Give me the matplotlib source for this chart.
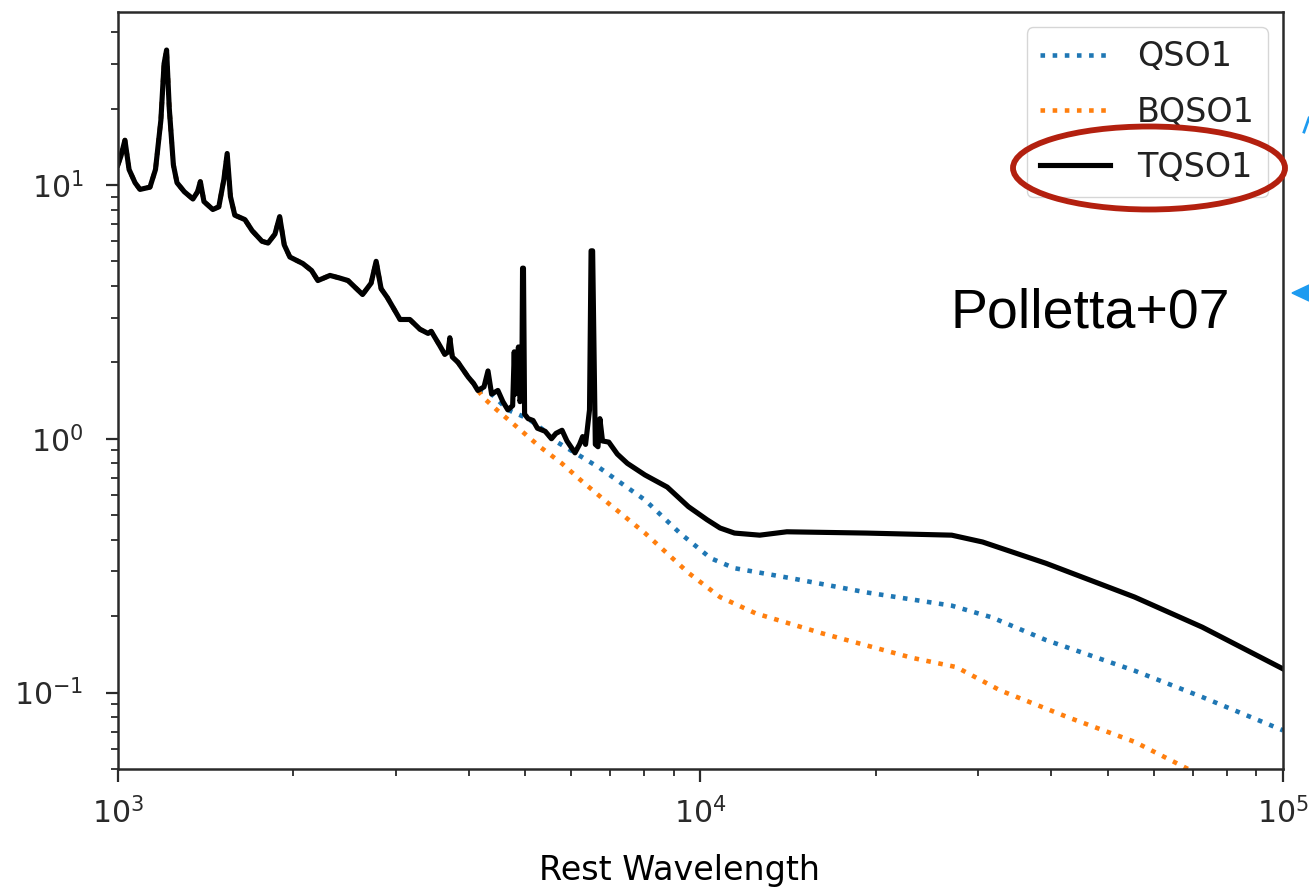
import numpy as np
import matplotlib
matplotlib.use("Agg")
import matplotlib.pyplot as plt
from matplotlib.patches import Ellipse

# --- data (rest wavelength in Angstrom, flux arbitrary) ---
# UV part shared by all three templates
uv_wave = [1000, 1012, 1028, 1045, 1070, 1091, 1135, 1160, 1185, 1200, 1212, 1225,
           1245, 1263, 1300, 1345, 1370, 1385, 1405, 1455, 1490, 1520, 1540, 1560,
           1587, 1652, 1700, 1767, 1810, 1860, 1895, 1930, 1973, 2077, 2150, 2204,
           2312, 2400, 2483, 2630, 2720, 2775, 2830, 2900, 3050, 3170, 3300, 3407,
           3450, 3560, 3640, 3690, 3713, 3750, 3835, 3993, 4080, 4148]
uv_flux = [12.0, 13.0, 15.0, 11.5, 10.2, 9.6, 9.8, 11.5, 18.0, 30.0, 34.0, 20.0,
           12.0, 10.2, 9.4, 8.8, 9.4, 10.3, 8.6, 8.0, 8.2, 10.5, 13.3, 9.0,
           7.6, 7.3, 6.6, 6.0, 5.9, 6.4, 7.5, 5.8, 5.2, 4.9, 4.6, 4.2,
           4.4, 4.3, 4.2, 3.7, 4.1, 5.0, 3.9, 3.6, 2.95, 2.95, 2.7, 2.6,
           2.65, 2.35, 2.15, 2.2, 2.5, 2.1, 2.0, 1.75, 1.65, 1.55]

# TQSO1 beyond the UV
tqso_wave_red = [4250, 4318, 4380, 4490, 4580, 4670, 4760, 4790, 4810, 4870, 4900,
                 4935, 4950, 4968, 4990, 5060, 5160, 5250, 5413, 5550, 5650, 5786,
                 5900, 6090, 6200, 6277, 6350, 6450, 6490, 6530, 6600, 6670, 6720,
                 6790, 6960, 7200, 7490, 8030, 8770, 9537, 10260, 10805, 11440,
                 12640, 14070, 19290, 27000, 30500, 39200, 55600, 72700, 100000]
tqso_flux_red = [1.6, 1.85, 1.5, 1.55, 1.4, 1.3, 1.35, 2.2, 1.5, 2.3, 1.4,
                 1.5, 4.7, 4.7, 1.25, 1.2, 1.18, 1.1, 1.07, 1.0, 1.05, 1.08,
                 0.98, 0.88, 0.95, 1.02, 0.95, 1.3, 5.5, 5.5, 0.95, 0.93, 1.2,
                 0.98, 0.97, 0.87, 0.80, 0.72, 0.645, 0.54, 0.48, 0.445, 0.425,
                 0.417, 0.43, 0.425, 0.417, 0.392, 0.323, 0.238, 0.181, 0.124]

# QSO1 beyond the UV
qso_wave_red = [4380, 4670, 5060, 5413, 5550, 6090, 6460, 6700, 8030, 9220, 10420,
                11440, 14330, 19290, 27000, 31600, 39200, 55600, 72700, 100000]
qso_flux_red = [1.5, 1.3, 1.2, 1.07, 1.0, 0.88, 0.81, 0.77, 0.574, 0.425, 0.338,
                0.309, 0.282, 0.248, 0.22, 0.198, 0.161, 0.122, 0.096, 0.071]

# BQSO1 beyond the UV
bqso_wave_red = [4270, 4470, 4870, 5300, 5780, 6260, 6800, 8030, 9540, 10800, 12450,
                 16200, 23100, 27500, 32700, 42700, 55600, 68700, 100000]
bqso_flux_red = [1.43, 1.30, 1.10, 0.93, 0.80, 0.68, 0.58, 0.425, 0.296, 0.238, 0.205,
                 0.171, 0.137, 0.126, 0.102, 0.08, 0.064, 0.05, 0.034]

labels = ["QSO1", "BQSO1", "TQSO1"]

qso_wave = np.array(uv_wave + qso_wave_red)
qso_flux = np.array(uv_flux + qso_flux_red)
bqso_wave = np.array(uv_wave + bqso_wave_red)
bqso_flux = np.array(uv_flux + bqso_flux_red)
tqso_wave = np.array(uv_wave + tqso_wave_red)
tqso_flux = np.array(uv_flux + tqso_flux_red)

fig = plt.figure(figsize=(13.09, 8.89), dpi=100)
ax = fig.add_axes([0.0901, 0.135, 0.89, 0.8515])

ax.plot(qso_wave, qso_flux, ":", color="#1f77b4", lw=3.3, label=labels[0])
ax.plot(bqso_wave, bqso_flux, ":", color="#ff7f0e", lw=3.3, label=labels[1])
ax.plot(tqso_wave, tqso_flux, "-", color="k", lw=3.7, label=labels[2])

ax.set_xscale("log")
ax.set_yscale("log")
ax.set_xlim(1e3, 1e5)
ax.set_ylim(0.05, 48)

for s in ax.spines.values():
    s.set_linewidth(1.8)
    s.set_color("#2a2a2a")
ax.tick_params(which="major", length=9, width=1.6, labelsize=21.5, colors="#2a2a2a")
ax.tick_params(which="minor", length=5, width=1.3, colors="#2a2a2a")
ax.tick_params(axis="x", which="major", pad=11)
ax.tick_params(axis="y", which="major", pad=16)

ax.set_xlabel("Rest Wavelength", fontsize=24)
ax.xaxis.set_label_coords((680 - 118) / 1165, -0.112)

leg = ax.legend(loc="upper right", fontsize=24, handlelength=2.1, handletextpad=0.8,
                labelspacing=0.67, borderpad=0.4, borderaxespad=0.45, framealpha=0.8)
for t in leg.get_texts():
    t.set_color("#222222")

# overlays: note, red ellipse, blue arrows
fig.text(950 / 1309, 1 - 328 / 889, "Polletta+07", fontsize=40,
         family="Liberation Sans", va="baseline", ha="left")

fig.add_artist(Ellipse((1149 / 1309, 1 - 168 / 889), 272 / 1309, 83 / 889,
                       transform=fig.transFigure, fill=False,
                       edgecolor="#b3200f", lw=4.2, zorder=10))

fig.add_artist(plt.Line2D([1296 / 1309, 1.02], [1 - 293 / 889, 1 - 293 / 889],
                          transform=fig.transFigure, color="#1d9bf0", lw=2))
fig.add_artist(plt.Polygon([[1292 / 1309, 1 - 293 / 889],
                            [1309 / 1309, 1 - 285 / 889],
                            [1309 / 1309, 1 - 301 / 889]],
                           transform=fig.transFigure, color="#1d9bf0", zorder=10))
fig.add_artist(plt.Line2D([1304 / 1309, 1309 / 1309], [1 - 132 / 889, 1 - 118 / 889],
                          transform=fig.transFigure, color="#1d9bf0", lw=2))

fig.savefig("out.png", dpi=100)
